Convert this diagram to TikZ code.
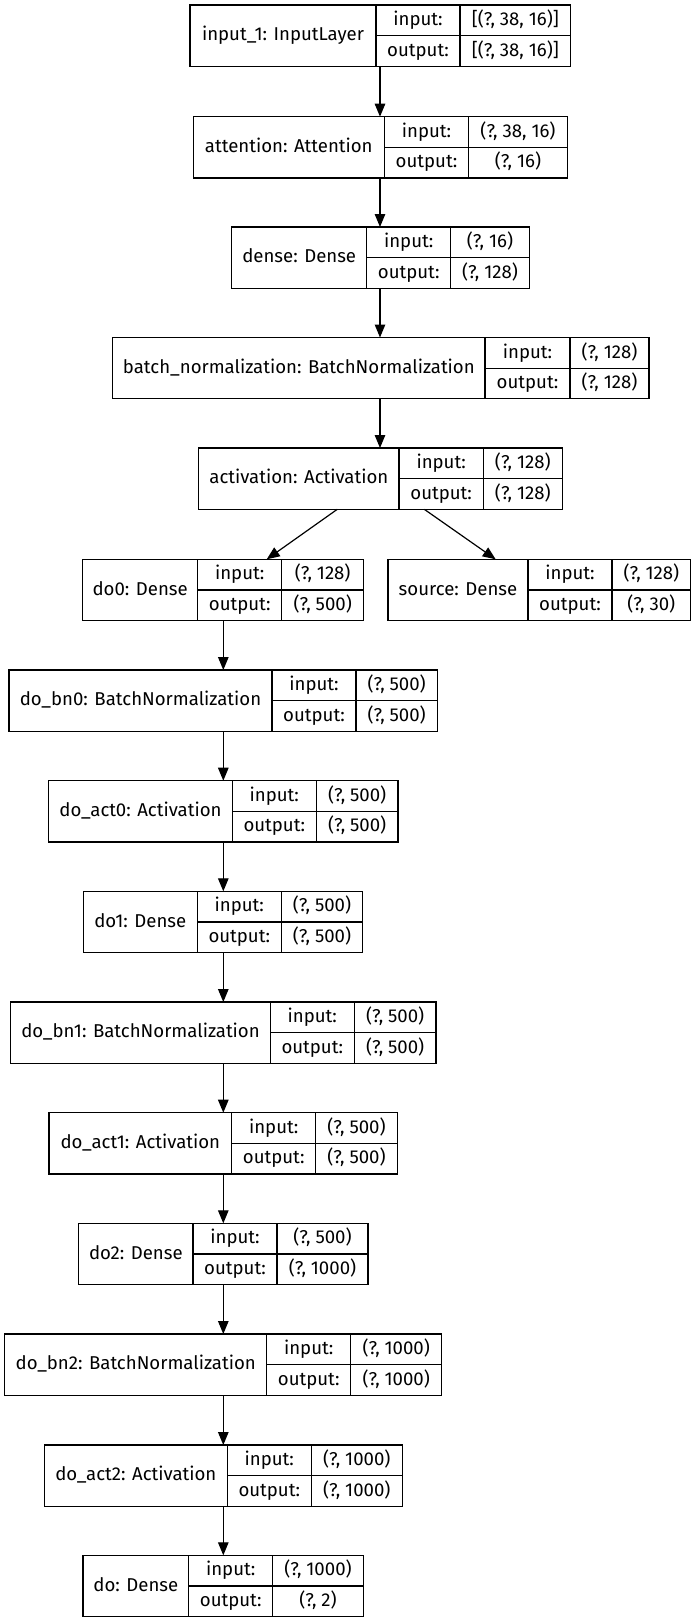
\documentclass[tikz,border=0pt]{standalone}
\usepackage{fontspec}
\setmainfont{Fira Sans}
\usetikzlibrary{arrows.meta}
\tikzset{
  box/.style={draw=black, line width=1.2pt, inner sep=0pt, outer sep=0pt},
  rule/.style={draw=black, line width=1.2pt},
  txt/.style={inner sep=0pt, text height=14pt, text depth=3.5pt, font=\fontsize{18.6}{22}\selectfont},
  arr/.style={draw=black, line width=1.2pt, -{Triangle[length=13pt,width=10.5pt]}},
}
\newcommand\layerbox[9]{%
  \node[box, anchor=north west, minimum width={(#6-#3)*1pt}, minimum height=61.3pt] (#1) at (#3,#2) {};
  \draw[rule] (#4,#2) -- ++(0,61.3) (#5,#2) -- ++(0,61.3) (#4,{#2+30.65}) -- (#6,{#2+30.65});
  \node[txt] (#1-l) at ({(#3+#4)/2},{#2+30.65}) {#7};
  \node[txt] (#1-i) at ({(#4+#5)/2},{#2+15.3}) {input:};
  \node[txt] (#1-o) at ({(#4+#5)/2},{#2+46}) {output:};
  \node[txt] (#1-iv) at ({(#5+#6)/2},{#2+15.3}) {#8};
  \node[txt] (#1-ov) at ({(#5+#6)/2},{#2+46}) {#9};
}
\begin{document}
\begin{tikzpicture}[x=1pt,y=-1pt]
\useasboundingbox[fill=white] (0,0) rectangle (696,1623);
\layerbox{in1}{5}{190}{376}{460}{570.7}{input\_1: InputLayer}{[(?, 38, 16)]}{[(?, 38, 16)]}
\layerbox{att}{116.7}{193.3}{384.3}{468.7}{567.3}{attention: Attention}{(?, 38, 16)}{(?, 16)}
\layerbox{dense}{227}{231.7}{366.7}{450.7}{529.3}{dense: Dense}{(?, 16)}{(?, 128)}
\layerbox{bn}{337.5}{112.7}{485}{570}{649}{batch\_normalization: BatchNormalization}{(?, 128)}{(?, 128)}
\layerbox{act}{448}{198.7}{399}{483.3}{562.3}{activation: Activation}{(?, 128)}{(?, 128)}
\layerbox{do0}{559.3}{82.7}{197.7}{281.7}{363.7}{do0: Dense}{(?, 128)}{(?, 500)}
\layerbox{src}{559.3}{388}{528}{612}{690.7}{source: Dense}{(?, 128)}{(?, 30)}
\layerbox{bn0}{670}{9}{272}{356}{437.3}{do\_bn0: BatchNormalization}{(?, 500)}{(?, 500)}
\layerbox{act0}{780.7}{48.7}{232.3}{316.3}{398}{do\_act0: Activation}{(?, 500)}{(?, 500)}
\layerbox{do1}{891.3}{83.3}{197.3}{281.3}{362.7}{do1: Dense}{(?, 500)}{(?, 500)}
\layerbox{bn1}{1002}{10.7}{270.3}{354.3}{436}{do\_bn1: BatchNormalization}{(?, 500)}{(?, 500)}
\layerbox{act1}{1112.7}{49}{231.7}{315.7}{397.3}{do\_act1: Activation}{(?, 500)}{(?, 500)}
\layerbox{do2}{1223.3}{78.7}{193}{277}{368}{do2: Dense}{(?, 500)}{(?, 1000)}
\layerbox{bn2}{1334}{4.7}{266.7}{350.7}{441.7}{do\_bn2: BatchNormalization}{(?, 1000)}{(?, 1000)}
\layerbox{act2}{1445}{44.3}{227.3}{311.3}{402.3}{do\_act2: Activation}{(?, 1000)}{(?, 1000)}
\layerbox{do}{1555.3}{83}{188.7}{272.7}{363.3}{do: Dense}{(?, 1000)}{(?, 2)}
\coordinate (mc) at (380,0);
\coordinate (lc) at (223.3,0);
\draw[arr] (in1.south -| mc) -- (att.north -| mc);
\draw[arr] (att.south -| mc) -- (dense.north -| mc);
\draw[arr] (dense.south -| mc) -- (bn.north -| mc);
\draw[arr] (bn.south -| mc) -- (act.north -| mc);
\draw[arr] ([xshift=138.6pt]act.south west) -- ([xshift=184pt]do0.north west);
\draw[arr] ([xshift=225.6pt]act.south west) -- ([xshift=107.7pt]src.north west);
\draw[arr] (do0.south -| lc) -- (bn0.north -| lc);
\draw[arr] (bn0.south -| lc) -- (act0.north -| lc);
\draw[arr] (act0.south -| lc) -- (do1.north -| lc);
\draw[arr] (do1.south -| lc) -- (bn1.north -| lc);
\draw[arr] (bn1.south -| lc) -- (act1.north -| lc);
\draw[arr] (act1.south -| lc) -- (do2.north -| lc);
\draw[arr] (do2.south -| lc) -- (bn2.north -| lc);
\draw[arr] (bn2.south -| lc) -- (act2.north -| lc);
\draw[arr] (act2.south -| lc) -- (do.north -| lc);
\end{tikzpicture}
\end{document}
